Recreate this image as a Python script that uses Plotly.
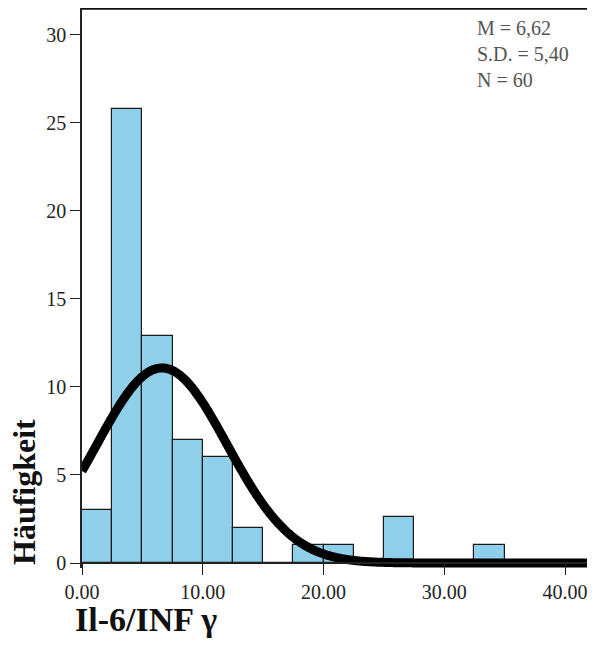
import numpy as np
import plotly.graph_objects as go

# Data
bin_starts = [0, 2.5, 5, 7.5, 10, 12.5, 15, 17.5, 20, 22.5, 25, 27.5, 30, 32.5]
counts = [3, 25.8, 12.9, 7, 6, 2, 0, 1, 1, 0, 2.6, 0, 0, 1]
bin_width = 2.5
mean_val = 6.62
sd_val = 5.40
n_val = 60
x_ticks = [0, 10, 20, 30, 40]
x_tick_labels = ["0.00", "10.00", "20.00", "30.00", "40.00"]
y_ticks = [0, 5, 10, 15, 20, 25, 30]
y_tick_labels = ["0", "5", "10", "15", "20", "25", "30"]

# Fitted normal curve from the stats shown in the chart
curve_x = np.linspace(0, 43.2, 400)
curve_y = n_val * bin_width / (sd_val * np.sqrt(2 * np.pi)) * np.exp(-0.5 * ((curve_x - mean_val) / sd_val) ** 2)

centers = [b + bin_width / 2 for b in bin_starts]

fig = go.Figure()
fig.add_trace(go.Bar(
    x=centers, y=counts, width=[bin_width] * len(counts),
    marker=dict(color="#8FCFEA", line=dict(color="#1a1a1a", width=1.2)),
    showlegend=False, hoverinfo="skip"
))
fig.add_trace(go.Scatter(
    x=curve_x, y=curve_y, mode="lines",
    line=dict(color="black", width=9, shape="spline", simplify=False),
    showlegend=False, hoverinfo="skip"
))

L, T, B = 74, 0, 93
plot_w = 595 - L
y_lo, y_hi = -0.284, 31.53
xpos = (0 - y_lo) / (y_hi - y_lo)

serif = "Liberation Serif, Times New Roman, serif"

fig.update_layout(
    width=595, height=653,
    margin=dict(l=L, r=0, t=T, b=B, autoexpand=False),
    plot_bgcolor="white", paper_bgcolor="white",
    bargap=0,
    xaxis=dict(
        range=[0, plot_w / 12.075], anchor="free", position=xpos, automargin=False,
        tickvals=x_ticks, ticktext=x_tick_labels,
        ticks="outside", ticklen=11, tickwidth=1.3, tickcolor="#222",
        showline=True, linecolor="#222", linewidth=1.5,
        showgrid=False, zeroline=False,
        tickfont=dict(family=serif, size=20, color="#222"),
    ),
    yaxis=dict(
        range=[y_lo, y_hi], automargin=False,
        tickvals=y_ticks, ticktext=y_tick_labels,
        ticks="outside", ticklen=10, tickwidth=1.3, tickcolor="#222",
        showline=True, linecolor="#222", linewidth=1.5,
        showgrid=False, zeroline=False,
        tickfont=dict(family=serif, size=20, color="#222"),
    ),
    shapes=[dict(type="line", xref="paper", yref="paper", x0=0, x1=1, y0=1, y1=1,
                 line=dict(color="#111", width=3.5))],
    annotations=[
        dict(text="<b>Il-6/INF γ</b>", xref="paper", yref="paper", x=(66 - L) / plot_w, y=0,
             xanchor="left", yanchor="middle", yshift=-51, showarrow=False, borderpad=0,
             font=dict(family=serif, size=34, color="#111")),
        dict(text="<b>Häufigkeit</b>", xref="paper", yref="paper", x=0, y=xpos,
             xanchor="center", yanchor="bottom", xshift=-58, yshift=-3, showarrow=False,
             textangle=-90, borderpad=0,
             font=dict(family=serif, size=32, color="#111")),
        dict(text="M = 6,62<br>S.D. = 5,40<br>N = 60", xref="paper", yref="paper",
             x=(467 - L) / plot_w, y=1, xanchor="left", yanchor="top", yshift=-7,
             align="left", showarrow=False,
             font=dict(family=serif, size=20, color="#555")),
    ],
)

fig.write_html("out.html")
